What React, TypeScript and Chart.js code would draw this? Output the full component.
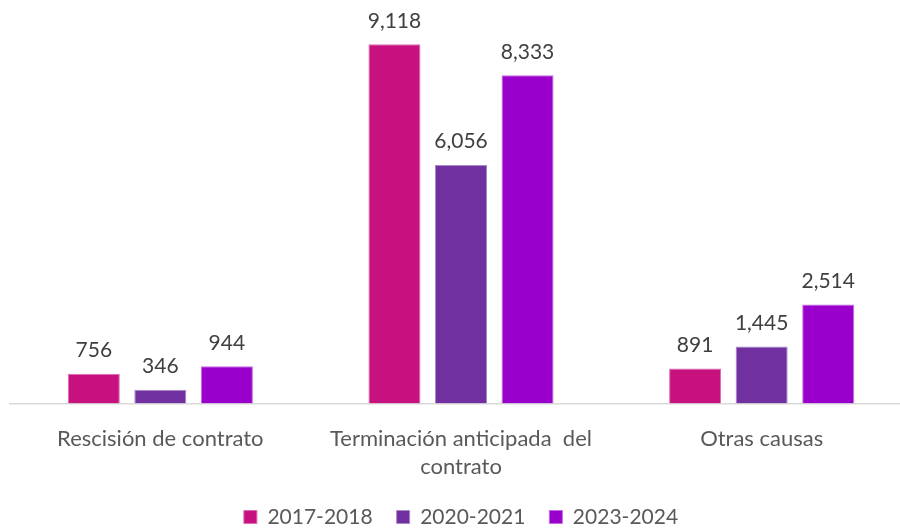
import React, { useEffect, useRef } from "react";
import { Chart, registerables } from "chart.js";

Chart.register(...registerables);

const categories: (string | string[])[] = [
  "Rescisión de contrato",
  ["Terminación anticipada  del", "contrato"],
  "Otras causas",
];
const seriesLabels = ["2017-2018", "2020-2021", "2023-2024"];
const values2017_2018 = [756, 9118, 891];
const values2020_2021 = [346, 6056, 1445];
const values2023_2024 = [944, 8333, 2514];
const seriesColors = ["#C7117F", "#7030A0", "#9900CC"];
const seriesBorders = ["#DE6BB0", "#A98AC8", "#C66AE2"];

const FONT = "Lato, 'Liberation Sans', sans-serif";

const dataLabelPlugin = {
  id: "dataLabels",
  afterDatasetsDraw(chart: any) {
    const ctx = chart.ctx;
    ctx.save();
    ctx.font = `21px ${FONT}`;
    ctx.fillStyle = "#404040";
    ctx.textAlign = "center";
    ctx.textBaseline = "alphabetic";
    chart.data.datasets.forEach((ds: any, di: number) => {
      const meta = chart.getDatasetMeta(di);
      meta.data.forEach((el: any, i: number) => {
        const v = ds.data[i] as number;
        ctx.fillText(v.toLocaleString("en-US"), el.x, el.y - 16.5);
      });
    });
    ctx.restore();
  },
};

export default function App() {
  const ref = useRef<HTMLCanvasElement | null>(null);
  useEffect(() => {
    document.body.style.margin = "0";
    if (!ref.current) return;
    const values = [values2017_2018, values2020_2021, values2023_2024];
    const chart = new Chart(ref.current, {
      type: "bar",
      data: {
        labels: categories,
        datasets: seriesLabels.map((label, i) => ({
          label,
          data: values[i],
          backgroundColor: seriesColors[i],
          borderColor: seriesBorders[i],
          borderWidth: 1,
          categoryPercentage: 0.664,
          barPercentage: 0.782,
        })),
      },
      options: {
        responsive: false,
        devicePixelRatio: 1,
        animation: false,
        layout: { padding: { left: 10, top: 9.5, right: 3, bottom: -8.5 } },
        scales: {
          y: { display: false, min: 0, max: 10000 },
          x: {
            grid: { display: false },
            border: { display: true, color: "#D9D9D9", width: 1.5 },
            ticks: {
              color: "#595959",
              font: { family: FONT, size: 22, lineHeight: 1.3 },
              padding: 13,
              maxRotation: 0,
              autoSkip: false,
            },
            afterFit: (scale: any) => {
              scale.height = 79;
            },
          },
        },
        plugins: {
          legend: {
            position: "bottom",
            labels: {
              color: "#595959",
              font: { family: FONT, size: 21 },
              boxWidth: 13,
              boxHeight: 13,
              padding: 24,
            },
          },
          tooltip: { enabled: false },
        },
      },
      plugins: [dataLabelPlugin],
    });
    return () => chart.destroy();
  }, []);
  return (
    <div style={{ position: "absolute", left: 0, top: 0, width: 900, height: 529, overflow: "hidden", background: "#fff" }}>
      <canvas ref={ref} width={915} height={529} />
    </div>
  );
}
